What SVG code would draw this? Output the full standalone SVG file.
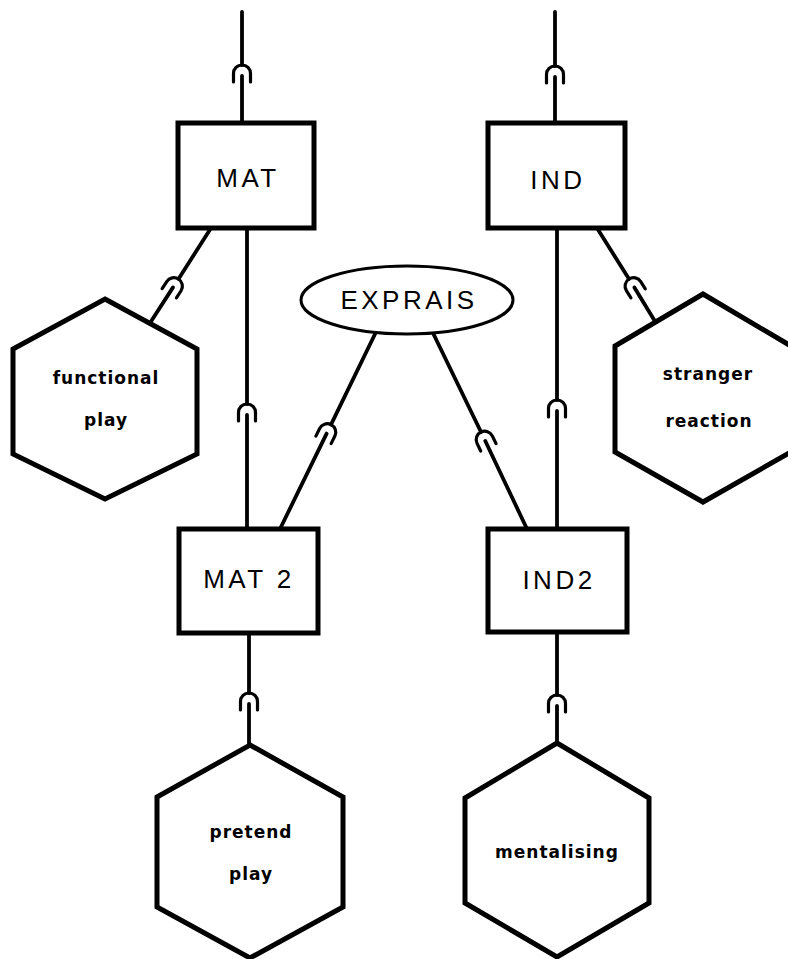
<svg xmlns="http://www.w3.org/2000/svg" xmlns:xlink="http://www.w3.org/1999/xlink" width="788" height="959" viewBox="0 0 788 959">
  <style>
    .box { fill: #fff; stroke: #000; stroke-width: 5; }
    .hex { fill: #fff; stroke: #000; stroke-width: 5; stroke-linejoin: miter; }
    .oval { fill: #fff; stroke: #000; stroke-width: 3; }
    .wire { fill: none; stroke: #000; stroke-width: 3.8; stroke-linecap: round; }
    .cap { fill: none; stroke: #000; stroke-width: 3.2; stroke-linecap: round; }
    .lbl { font-family: "Liberation Sans", Arial, sans-serif; font-size: 26px; letter-spacing: 3.5px; text-anchor: middle; fill: #000; }
    .hlbl { font-family: "DejaVu Sans", "Liberation Sans", sans-serif; font-size: 17px; font-weight: bold; letter-spacing: 1px; text-anchor: middle; fill: #000; }
  </style>
  <defs>
    <!-- cup joint: apex at origin, opening along +y -->
    <path id="cup" class="cap" d="M-8.5,17 V8.5 A8.5,8.5 0 0 1 8.5,8.5 V17"/>
  </defs>

  <rect width="788" height="959" fill="#fff"/>

  <g id="connectors">
    <!-- into MAT -->
    <line class="wire" x1="242" y1="12" x2="242" y2="65"/>
    <use xlink:href="#cup" href="#cup" transform="translate(242,65)"/>
    <line class="wire" x1="242" y1="76" x2="242" y2="123"/>
    <!-- into IND -->
    <line class="wire" x1="555" y1="12" x2="555" y2="66"/>
    <use xlink:href="#cup" href="#cup" transform="translate(555,66)"/>
    <line class="wire" x1="555" y1="77" x2="555" y2="123"/>
    <!-- MAT to functional play -->
    <line class="wire" x1="211" y1="228" x2="178.5" y2="279"/>
    <use xlink:href="#cup" href="#cup" transform="translate(178.5,279) rotate(32.8)"/>
    <line class="wire" x1="173" y1="287.4" x2="150" y2="323"/>
    <!-- IND to stranger reaction -->
    <line class="wire" x1="597" y1="228" x2="629" y2="279"/>
    <use xlink:href="#cup" href="#cup" transform="translate(629,279) rotate(-32.4)"/>
    <line class="wire" x1="634.4" y1="287.4" x2="656" y2="323"/>
    <!-- MAT to MAT 2 -->
    <line class="wire" x1="247" y1="228" x2="247" y2="404"/>
    <use xlink:href="#cup" href="#cup" transform="translate(247,404)"/>
    <line class="wire" x1="247" y1="415" x2="247" y2="529"/>
    <!-- IND to IND2 -->
    <line class="wire" x1="557" y1="228" x2="557" y2="400"/>
    <use xlink:href="#cup" href="#cup" transform="translate(557,400)"/>
    <line class="wire" x1="557" y1="411" x2="557" y2="529"/>
    <!-- EXPRAIS to MAT 2 -->
    <line class="wire" x1="376" y1="332" x2="331" y2="424.6"/>
    <use xlink:href="#cup" href="#cup" transform="translate(331,424.6) rotate(26.2)"/>
    <line class="wire" x1="326.6" y1="433.6" x2="280" y2="529"/>
    <!-- EXPRAIS to IND2 -->
    <line class="wire" x1="433" y1="333" x2="481" y2="432"/>
    <use xlink:href="#cup" href="#cup" transform="translate(481,432) rotate(-25.7)"/>
    <line class="wire" x1="485.3" y1="441" x2="527" y2="529"/>
    <!-- MAT 2 to pretend play -->
    <line class="wire" x1="249" y1="633" x2="249" y2="693"/>
    <use xlink:href="#cup" href="#cup" transform="translate(249,693)"/>
    <line class="wire" x1="249" y1="704" x2="249" y2="745"/>
    <!-- IND2 to mentalising -->
    <line class="wire" x1="557" y1="632" x2="557" y2="695"/>
    <use xlink:href="#cup" href="#cup" transform="translate(557,695)"/>
    <line class="wire" x1="557" y1="706" x2="557" y2="743"/>
  </g>

  <g id="mat">
    <rect class="box" x="178" y="123" width="136" height="105"/>
    <text class="lbl" x="248" y="187">MAT</text>
  </g>
  <g id="ind">
    <rect class="box" x="488" y="123" width="137" height="105"/>
    <text class="lbl" x="558" y="189">IND</text>
  </g>
  <g id="expais">
    <ellipse class="oval" cx="407" cy="300" rx="106" ry="34"/>
    <text class="lbl" x="409" y="309">EXPRAIS</text>
  </g>
  <g id="functional-play">
    <polygon class="hex" points="105,299 197,349 197,454 105,499 13,454 13,349"/>
    <text class="hlbl" x="106" y="384">functional</text>
    <text class="hlbl" x="106" y="426">play</text>
  </g>
  <g id="stranger-reaction">
    <polygon class="hex" points="703,294 791,346 791,452 703,502 615,452 615,346"/>
    <text class="hlbl" x="708" y="380">stranger</text>
    <text class="hlbl" x="709" y="427">reaction</text>
  </g>
  <g id="mat2">
    <rect class="box" x="179" y="529" width="139" height="104"/>
    <text class="lbl" x="249" y="588">MAT 2</text>
  </g>
  <g id="ind2">
    <rect class="box" x="488" y="529" width="139" height="103"/>
    <text class="lbl" x="559" y="589">IND2</text>
  </g>
  <g id="pretend-play">
    <polygon class="hex" points="250,745 343,797 343,907 250,958 157,907 157,797"/>
    <text class="hlbl" x="251" y="838">pretend</text>
    <text class="hlbl" x="251" y="880">play</text>
  </g>
  <g id="mentalising">
    <polygon class="hex" points="557,743 649,798 649,903 557,957 465,903 465,798"/>
    <text class="hlbl" x="557" y="858">mentalising</text>
  </g>
</svg>
